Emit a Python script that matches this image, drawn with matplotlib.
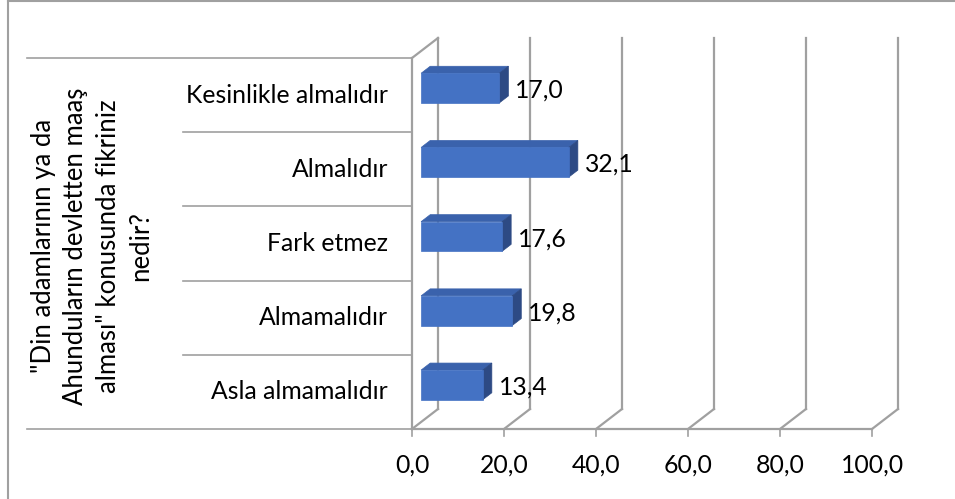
import matplotlib
matplotlib.use("Agg")
import matplotlib.pyplot as plt
from matplotlib.patches import Polygon
from matplotlib.lines import Line2D

categories = ["Asla almamalıdır", "Almamalıdır", "Fark etmez", "Almalıdır", "Kesinlikle almalıdır"]
values = [13.4, 19.8, 17.6, 32.1, 17.0]
xticks = [0, 20, 40, 60, 80, 100]
xtick_labels = ["0,0", "20,0", "40,0", "60,0", "80,0", "100,0"]
axis_title = '"Din adamlarının ya da\nAhunduların devletten maaş\nalması" konusunda fikriniz\nnedir?'

FONT = ["Lato", "DejaVu Sans"]
FS = 17.8
W, H, DPI = 955, 499, 100
fig = plt.figure(figsize=(W / DPI, H / DPI), dpi=DPI)
fig.patch.set_facecolor("white")

# front plane of the 3D box
L, R, T, B = 412, 872, 58, 429
ax = fig.add_axes([L / W, 1 - B / H, (R - L) / W, (B - T) / H])
ax.set_xlim(0, 100)
ax.set_ylim(-0.5, len(categories) - 0.5)
ax.axis("off")

# depth offset (pixels) converted to data units
DX_PX, DY_PX = 26, 20
ddx = DX_PX * 100 / (R - L)
ddy = DY_PX * len(categories) / (B - T)

def P(x, y, d):
    return (x + d * ddx, y + d * ddy)

grid_c = "#A0A0A0"
ytop = len(categories) - 0.5
ybot = -0.5
# back wall gridlines
for xt in xticks:
    ax.add_line(Line2D([P(xt, ybot, 1)[0], P(xt, ytop, 1)[0]],
                       [P(xt, ybot, 1)[1], P(xt, ytop, 1)[1]],
                       color=grid_c, lw=1.6, clip_on=False, zorder=1))
    # floor diagonals
    ax.add_line(Line2D([xt, P(xt, ybot, 1)[0]], [ybot, P(xt, ybot, 1)[1]],
                       color=grid_c, lw=1.6, clip_on=False, zorder=1))
    # tick marks
    ax.plot([xt, xt], [ybot, ybot - 0.1], color=grid_c, lw=1.2, clip_on=False, zorder=1)
# left wall top diagonal and front edge
ax.add_line(Line2D([0, P(0, ytop, 1)[0]], [ytop, P(0, ytop, 1)[1]],
                   color=grid_c, lw=1.6, clip_on=False, zorder=1))
ax.add_line(Line2D([0, 0], [ybot, ytop], color=grid_c, lw=1.6, clip_on=False, zorder=1))
# floor front edge
ax.add_line(Line2D([0, 100], [ybot, ybot], color=grid_c, lw=1.6, clip_on=False, zorder=1))

# category separators extending to the left (outer ones span the title level)
outer_left = (27 - L) * 100 / (R - L)
inner_left = (183 - L) * 100 / (R - L)
for k in range(len(categories) + 1):
    yk = -0.5 + k
    xl = outer_left if k in (0, len(categories)) else inner_left
    ax.add_line(Line2D([xl, 0], [yk, yk], color=grid_c, lw=1.2,
                       clip_on=False, zorder=1))

# bars
D0, D1, HH = 0.35, 0.7, 0.2
front_c, top_c, side_c = "#4472C4", "#3A62AC", "#2D4A84"
for i, v in enumerate(values):
    c = i
    front = [P(0, c - HH, D0), P(v, c - HH, D0), P(v, c + HH, D0), P(0, c + HH, D0)]
    top = [P(0, c + HH, D0), P(v, c + HH, D0), P(v, c + HH, D1), P(0, c + HH, D1)]
    side = [P(v, c - HH, D0), P(v, c + HH, D0), P(v, c + HH, D1), P(v, c - HH, D1)]
    for poly, col in ((top, top_c), (side, side_c), (front, front_c)):
        ax.add_patch(Polygon(poly, closed=True, facecolor=col, edgecolor=col,
                             lw=0.5, clip_on=False, zorder=3))
    lx, ly = P(v, c, D0)
    ax.annotate(f"{v:.1f}".replace(".", ","), (v + D1 * ddx, ly - 0.03),
                xytext=(7, 0), textcoords="offset pixels",
                ha="left", va="center", fontsize=FS, family=FONT, color="black",
                annotation_clip=False, zorder=4)

# category labels
for i, cat in enumerate(categories):
    ax.annotate(cat, (0, i), xytext=(-24, 0), textcoords="offset pixels",
                ha="right", va="center", fontsize=FS, family=FONT,
                color="black", annotation_clip=False)

# tick labels
for xt, lab in zip(xticks, xtick_labels):
    ax.annotate(lab, (xt, ybot), xytext=(0, -36), textcoords="offset pixels",
                ha="center", va="center", fontsize=FS, family=FONT,
                color="black", annotation_clip=False)

# axis title (second-level category)
fig.text(92 / W, 1 - 246 / H, axis_title, rotation=90, ha="center", va="center",
         multialignment="center", fontsize=18.5, family=FONT, linespacing=1.37,
         color="black")

# outer chart frame (left and top)
fig.add_artist(Line2D([8 / W, 8 / W], [0, 1 - 1 / H], transform=fig.transFigure,
                      color="#A0A0A0", lw=1.5))
fig.add_artist(Line2D([8 / W, 1], [1 - 1 / H, 1 - 1 / H], transform=fig.transFigure,
                      color="#A0A0A0", lw=1.5))

fig.savefig("out.png", dpi=DPI, facecolor="white")
